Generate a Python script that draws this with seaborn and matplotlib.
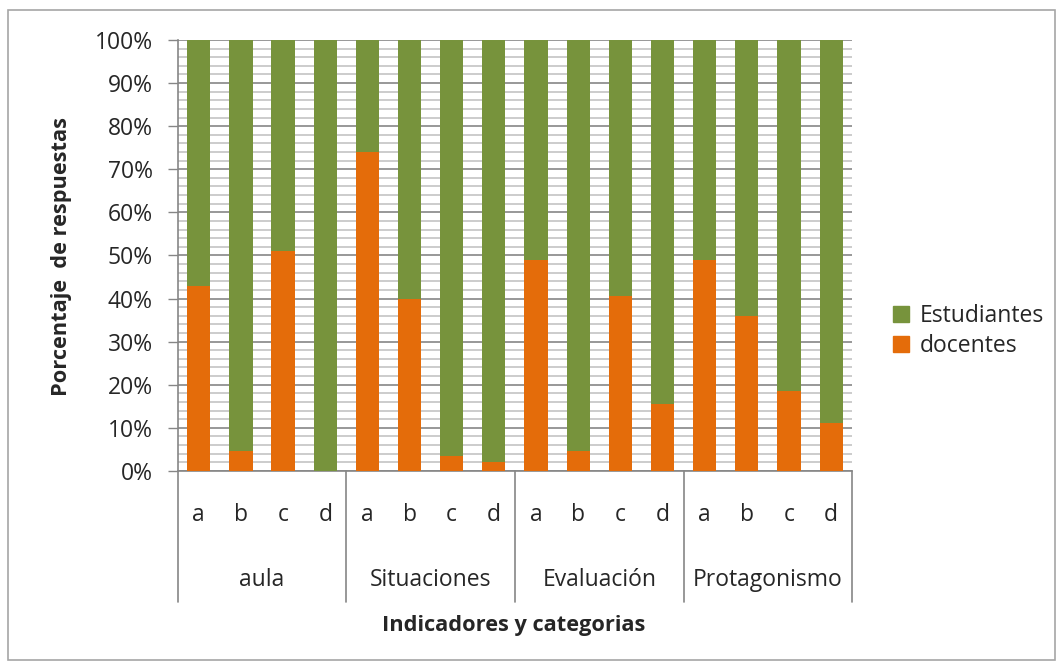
import numpy as np
import pandas as pd
import seaborn as sns
import matplotlib.pyplot as plt
from matplotlib.patches import Patch, Rectangle
from matplotlib.ticker import MultipleLocator, PercentFormatter

# data (percent of answers from docentes; rest is Estudiantes)
groups = ['aula', 'Situaciones', 'Evaluación', 'Protagonismo']
subcats = ['a', 'b', 'c', 'd']
docentes = [43, 4.5, 51, 0,
            74, 40, 3.5, 2,
            49, 4.5, 40.5, 15.5,
            49, 36, 18.5, 11]
estudiantes = [100 - v for v in docentes]

green = '#77933C'
orange = '#E46C0A'

sns.set_style('white')
plt.rcParams['font.family'] = ['Open Sans', 'DejaVu Sans']

keys = [f'{g}-{s}' for g in groups for s in subcats]
df = pd.DataFrame({'key': keys, 'docentes': docentes, 'estudiantes': estudiantes})
df['total'] = df['docentes'] + df['estudiantes']

fig = plt.figure(figsize=(10.64, 6.66), dpi=100)
ax = fig.add_axes([0.167, 0.293, 0.634, 0.647])

# stacked bars: full height in green, docentes on top in orange
sns.barplot(data=df, x='key', y='total', order=keys, color=green, width=0.55,
            saturation=1, linewidth=0, ax=ax, zorder=3)
sns.barplot(data=df, x='key', y='docentes', order=keys, color=orange, width=0.55,
            saturation=1, linewidth=0, ax=ax, zorder=4)

ax.set_ylim(0, 100)
ax.set_xlim(-0.5, len(keys) - 0.5)
ax.yaxis.set_major_locator(MultipleLocator(10))
ax.yaxis.set_minor_locator(MultipleLocator(2))
ax.yaxis.set_major_formatter(PercentFormatter(decimals=0))
ax.grid(True, which='major', axis='y', color='#868686', lw=1.2, zorder=0)
ax.grid(True, which='minor', axis='y', color='#c4c4c4', lw=1.2, zorder=0)
ax.tick_params(axis='y', which='major', length=7, width=1, color='#868686',
               labelsize=16.5, pad=11, left=True)
ax.tick_params(axis='y', which='minor', length=0)
ax.tick_params(axis='x', length=0, labelbottom=False)

for s in ['top', 'right']:
    ax.spines[s].set_visible(False)
for s in ['left', 'bottom']:
    ax.spines[s].set_color('#868686')
    ax.spines[s].set_linewidth(1.2)

# category axis: sub labels, group labels and separators
trans = ax.get_xaxis_transform()
for i, k in enumerate(keys):
    ax.text(i, -0.102, k.split('-')[1], transform=trans, ha='center', va='center',
            fontsize=16.5)
for j, g in enumerate(groups):
    ax.text(j * 4 + 1.5, -0.253, g, transform=trans, ha='center', va='center',
            fontsize=16.5)
for xb in np.arange(-0.5, len(keys), 4):
    ax.plot([xb, xb], [0, -0.304], transform=trans, color='#868686', lw=1.2,
            clip_on=False)

ax.set_xlabel('')
ax.set_ylabel('')
fig.text(514 / 1064, 1 - 625 / 666, 'Indicadores y categorias', ha='center', va='center',
         fontsize=15.7, fontweight='bold')
fig.text(62 / 1064, 1 - 257 / 666, 'Porcentaje  de respuestas', ha='center', va='center',
         rotation=90, fontsize=15.7, fontweight='bold')

handles = [Patch(color=green, label='Estudiantes'), Patch(color=orange, label='docentes')]
fig.legend(handles=handles, loc='center left', bbox_to_anchor=(893 / 1064, 1 - 331 / 666),
           frameon=False, fontsize=16.5, handlelength=0.7, handleheight=0.7,
           handletextpad=0.45, labelspacing=0.25, borderpad=0, borderaxespad=0)

# outer chart border
fig.patches.append(Rectangle((8 / 1064, 6 / 666), 1047 / 1064, 650 / 666,
                             transform=fig.transFigure, fill=False,
                             edgecolor='#a6a6a6', lw=1.2))

fig.savefig('out.png', dpi=100)
